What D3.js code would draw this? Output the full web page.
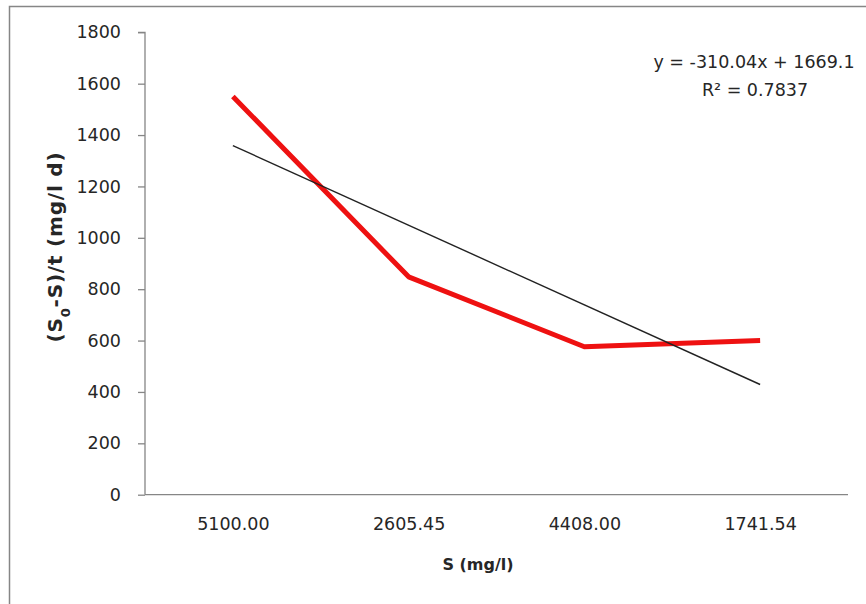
<!DOCTYPE html>
<html>
<head>
<meta charset="utf-8">
<script src="https://cdn.jsdelivr.net/npm/d3@7"></script>
<style>
  html, body { margin: 0; padding: 0; background: #fff; }
  svg { display: block; }
</style>
</head>
<body>
<svg id="chart" width="866" height="604"></svg>
<script>
// ---- data ----
const categories = ["5100.00", "2605.45", "4408.00", "1741.54"];
const values = [1550, 848, 576, 600];
const yTicks = [0, 200, 400, 600, 800, 1000, 1200, 1400, 1600, 1800];
const trendSlope = -310.04;
const trendIntercept = 1669.1;
const equationLines = ["y = -310.04x + 1669.1", "R² = 0.7837"];
const xTitle = "S (mg/l)";

// ---- layout ----
const svg = d3.select("#chart");
const plot = { left: 145, right: 848, top: 32.3, bottom: 494.7 };
const axisColor = "#868686";
const textColor = "#262626";
const font = "'DejaVu Sans', Verdana, sans-serif";

// frame of chart area
svg.append("path")
  .attr("d", "M9.5,604 L9.5,6.5 L866,6.5")
  .attr("fill", "none")
  .attr("stroke", axisColor)
  .attr("stroke-width", 1.5);

const x = d3.scalePoint().domain(categories).range([plot.left, plot.right]).padding(0.5);
const y = d3.scaleLinear().domain([0, 1800]).range([plot.bottom, plot.top]);

// y axis
const yAxis = svg.append("g")
  .attr("transform", `translate(${plot.left},0)`)
  .call(d3.axisLeft(y).tickValues(yTicks).tickSize(7).tickPadding(17).tickFormat(d3.format("d")));
yAxis.select(".domain").attr("stroke", axisColor).attr("stroke-width", 1.3)
  .attr("d", `M-7,${plot.top}H0V${plot.bottom}`);
yAxis.selectAll(".tick line").attr("stroke", axisColor).attr("stroke-width", 1.3);
yAxis.selectAll(".tick text").attr("fill", textColor).style("font-family", font).style("font-size", "17.5px");

// x axis
const xAxis = svg.append("g")
  .attr("transform", `translate(0,${plot.bottom})`)
  .call(d3.axisBottom(x).tickSize(0).tickPadding(23));
xAxis.select(".domain").attr("stroke", axisColor).attr("stroke-width", 1.3)
  .attr("d", `M${plot.left},0H${plot.right}`);
xAxis.selectAll(".tick text").attr("fill", textColor).style("font-family", font).style("font-size", "17.5px");

// data line
const line = d3.line().x((d, i) => x(categories[i])).y(d => y(d));
svg.append("path")
  .datum(values)
  .attr("d", line)
  .attr("fill", "none")
  .attr("stroke", "#ee1111")
  .attr("stroke-width", 5)
  .attr("stroke-linejoin", "round");

// linear trendline (x = category index 1..n)
const trendVals = [1, categories.length].map(i => ({ c: categories[i - 1], v: trendSlope * i + trendIntercept }));
svg.append("path")
  .datum(trendVals)
  .attr("d", d3.line().x(d => x(d.c)).y(d => y(d.v)))
  .attr("fill", "none")
  .attr("stroke", "#222")
  .attr("stroke-width", 1.4);

// equation text
const eq = svg.append("g").attr("fill", textColor).style("font-family", font).style("font-size", "17.5px").attr("text-anchor", "middle");
eq.append("text").attr("x", 754).attr("y", 68).text(equationLines[0]);
eq.append("text").attr("x", 755).attr("y", 96).text(equationLines[1]);

// x title
svg.append("text")
  .attr("x", 478).attr("y", 570)
  .attr("text-anchor", "middle")
  .attr("fill", textColor)
  .style("font-family", font).style("font-size", "16px").style("font-weight", "bold")
  .text(xTitle);

// y title
const yt = svg.append("text")
  .attr("transform", "translate(62,247) rotate(-90)")
  .attr("text-anchor", "middle")
  .attr("fill", textColor)
  .style("font-family", font).style("font-size", "20px").style("font-weight", "bold")
  .style("letter-spacing", "0.8px");
yt.append("tspan").text("(S");
yt.append("tspan").attr("baseline-shift", "sub").style("font-size", "13px").text("0");
yt.append("tspan").text("-S)/t (mg/l d)");
</script>
</body>
</html>
